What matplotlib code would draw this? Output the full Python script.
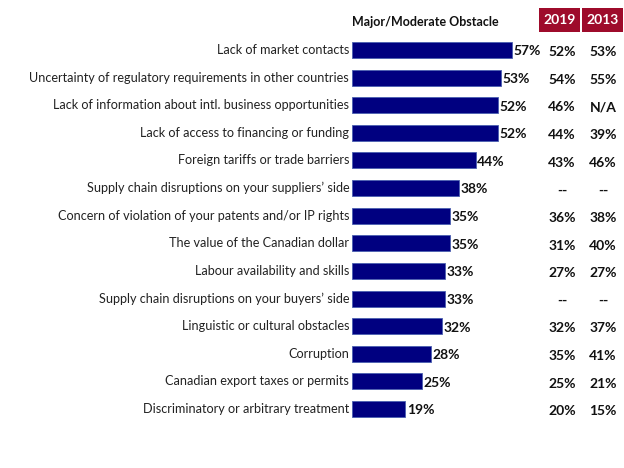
import matplotlib.pyplot as plt
import matplotlib.transforms as mtransforms
from matplotlib.patches import Rectangle

categories = [
    "Lack of market contacts",
    "Uncertainty of regulatory requirements in other countries",
    "Lack of information about intl. business opportunities",
    "Lack of access to financing or funding",
    "Foreign tariffs or trade barriers",
    "Supply chain disruptions on your suppliers\u2019 side",
    "Concern of violation of your patents and/or IP rights",
    "The value of the Canadian dollar",
    "Labour availability and skills",
    "Supply chain disruptions on your buyers\u2019 side",
    "Linguistic or cultural obstacles",
    "Corruption",
    "Canadian export taxes or permits",
    "Discriminatory or arbitrary treatment",
]
values_2021 = [57, 53, 52, 52, 44, 38, 35, 35, 33, 33, 32, 28, 25, 19]
values_2019 = ["52%", "54%", "46%", "44%", "43%", "--", "36%", "31%", "27%", "--", "32%", "35%", "25%", "20%"]
values_2013 = ["53%", "55%", "N/A", "39%", "46%", "--", "38%", "40%", "27%", "--", "37%", "41%", "21%", "15%"]
col_headers = ["2019", "2013"]

W, H = 624, 468
font = ["Lato", "DejaVu Sans"]
plt.rcParams["font.family"] = font

fig = plt.figure(figsize=(W / 100, H / 100), dpi=100)
ax = fig.add_axes([352 / W, 1 - 422.8 / H, 196.5 / W, 386.6 / H])

n = len(categories)
y = list(range(n))
ax.barh(y, values_2021, height=0.58, color="#000080", edgecolor="#4a5fb0", linewidth=0.6)
ax.set_xlim(0, 70)
ax.set_ylim(n - 0.5, -0.5)
ax.axis("off")

for yi, v, lab in zip(y, values_2021, categories):
    ax.text(v + 0.5, yi + 0.05, f"{v}%", va="center", ha="left", fontsize=10, fontweight="bold", color="#111111")
    ax.text(-1.0, yi, lab, va="center", ha="right", fontsize=9.05, color="#222222")

trans = mtransforms.blended_transform_factory(fig.transFigure, ax.transData)
for yi, a, b in zip(y, values_2019, values_2013):
    ax.text(562 / W, yi + 0.08, a, transform=trans, va="center", ha="center", fontsize=10, fontweight="bold", color="#111111")
    ax.text(603 / W, yi + 0.08, b, transform=trans, va="center", ha="center", fontsize=10, fontweight="bold", color="#111111")

# header
fig.text(352 / W, 1 - 22 / H, "Major/Moderate Obstacle", ha="left", va="center", fontsize=9, fontweight="bold", color="#111111")
for x0, lab in zip([539, 582], col_headers):
    fig.patches.append(Rectangle((x0 / W, 1 - 32 / H), 41 / W, 24 / H, transform=fig.transFigure,
                                 facecolor="#9e0b2b", edgecolor="none"))
    fig.text((x0 + 20.5) / W, 1 - 20 / H, lab, ha="center", va="center", fontsize=10, fontweight="bold", color="white")

fig.savefig("out.png", dpi=100)
